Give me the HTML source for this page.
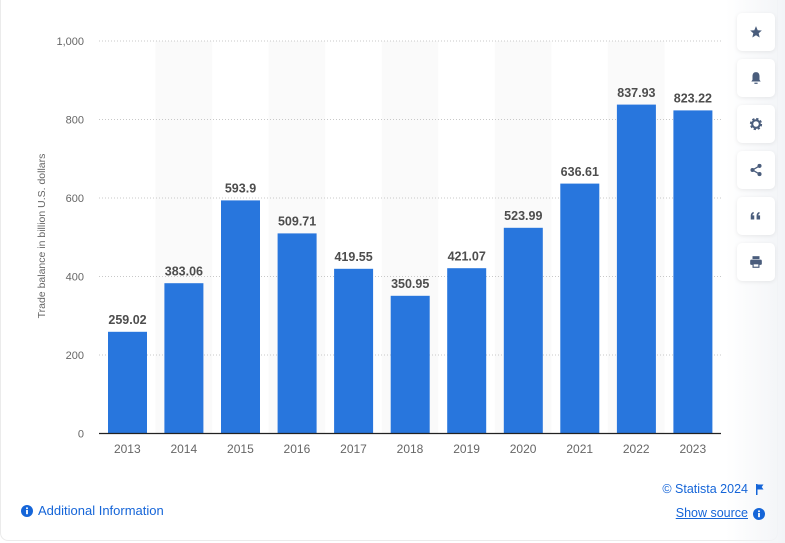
<!DOCTYPE html>
<html><head><meta charset="utf-8"><style>
html,body{margin:0;padding:0;background:#fff;width:785px;height:543px;overflow:hidden;font-family:"Liberation Sans",sans-serif}
.card{position:absolute;left:0;top:-12px;width:778px;height:553px;border:1px solid #ebebeb;border-radius:8px;background:#fff;box-sizing:border-box}
.side{position:absolute;left:726px;top:0;width:59px;height:543px;background:linear-gradient(to right,rgba(255,255,255,0),#f2f4f7)}
.btn{position:absolute;left:737px;width:38px;height:38px;background:#fff;border-radius:5px;box-shadow:0 1px 4px rgba(0,0,0,0.08);display:flex;align-items:center;justify-content:center}
.foot{position:absolute;font-size:12.5px;color:#1565d8;white-space:nowrap}
</style></head><body>
<div class="card"></div>
<div class="side"></div>
<svg width="785" height="543" style="position:absolute;left:0;top:0" xmlns="http://www.w3.org/2000/svg">
<g fill="#fafafa">
<rect x="155.5" y="41" width="56.6" height="392.5"/>
<rect x="268.6" y="41" width="56.6" height="392.5"/>
<rect x="381.7" y="41" width="56.6" height="392.5"/>
<rect x="494.8" y="41" width="56.6" height="392.5"/>
<rect x="607.9" y="41" width="56.6" height="392.5"/>
</g>
<g stroke="#c8c8c8" stroke-width="1" stroke-dasharray="1,2">
<line x1="99" y1="41" x2="721" y2="41"/>
<line x1="99" y1="119.5" x2="721" y2="119.5"/>
<line x1="99" y1="198" x2="721" y2="198"/>
<line x1="99" y1="276.5" x2="721" y2="276.5"/>
<line x1="99" y1="355" x2="721" y2="355"/>
</g>
<g font-size="11" fill="#666" text-anchor="end">
<text x="84" y="45">1,000</text>
<text x="84" y="123.5">800</text>
<text x="84" y="202">600</text>
<text x="84" y="280.5">400</text>
<text x="84" y="359">200</text>
<text x="84" y="437.5">0</text>
</g>
<text transform="translate(45,236) rotate(-90)" font-size="10.5" fill="#666" text-anchor="middle">Trade balance in billion U.S. dollars</text>
<g fill="#2876dd">
<rect x="108" y="331.8" width="39" height="101.7"/>
<rect x="164.4" y="283.2" width="39" height="150.3"/>
<rect x="221" y="200.4" width="39" height="233.1"/>
<rect x="277.6" y="233.4" width="39" height="200.1"/>
<rect x="334.1" y="268.8" width="39" height="164.7"/>
<rect x="390.7" y="295.8" width="39" height="137.7"/>
<rect x="447.2" y="268.2" width="39" height="165.3"/>
<rect x="503.8" y="227.8" width="39" height="205.7"/>
<rect x="560.3" y="183.6" width="39" height="249.9"/>
<rect x="616.9" y="104.6" width="39" height="328.9"/>
<rect x="673.4" y="110.4" width="39" height="323.1"/>
</g>
<g font-size="12.5" font-weight="bold" fill="#4d4d4d" text-anchor="middle">
<text x="127.5" y="324">259.02</text>
<text x="183.9" y="275.4">383.06</text>
<text x="240.5" y="192.6">593.9</text>
<text x="297.1" y="225.6">509.71</text>
<text x="353.6" y="261">419.55</text>
<text x="410.2" y="288">350.95</text>
<text x="466.7" y="260.4">421.07</text>
<text x="523.3" y="220">523.99</text>
<text x="579.8" y="175.8">636.61</text>
<text x="636.4" y="96.8">837.93</text>
<text x="692.9" y="102.6">823.22</text>
</g>
<line x1="99" y1="433.5" x2="721" y2="433.5" stroke="#222" stroke-width="1.2"/>
<g font-size="12" fill="#666" text-anchor="middle">
<text x="127.3" y="453">2013</text>
<text x="183.8" y="453">2014</text>
<text x="240.4" y="453">2015</text>
<text x="296.9" y="453">2016</text>
<text x="353.5" y="453">2017</text>
<text x="410" y="453">2018</text>
<text x="466.6" y="453">2019</text>
<text x="523.1" y="453">2020</text>
<text x="579.7" y="453">2021</text>
<text x="636.2" y="453">2022</text>
<text x="692.8" y="453">2023</text>
</g>
</svg>
<div class="btn" style="top:13px"><svg width="14" height="14" viewBox="0 0 24 24"><path d="M12 2l2.9 6.9 7.1.6-5.4 4.7 1.7 7.3L12 17.6 5.7 21.5l1.7-7.3L2 9.5l7.1-.6z" fill="#4a5d7c"/></svg></div>
<div class="btn" style="top:59px"><svg width="14" height="14" viewBox="0 0 24 24"><path d="M12 2c-4 0-6 3-6 7v6l-2 3h16l-2-3V9c0-4-2-7-6-7z" fill="#4a5d7c"/><rect x="9" y="20" width="6" height="2" rx="1" fill="#4a5d7c"/></svg></div>
<div class="btn" style="top:105px"><svg width="14" height="14" viewBox="0 0 24 24"><circle cx="12" cy="12" r="8" fill="none" stroke="#4a5d7c" stroke-width="5" stroke-dasharray="3.5,2.8"/><circle cx="12" cy="12" r="6.5" fill="none" stroke="#4a5d7c" stroke-width="3.5"/></svg></div>
<div class="btn" style="top:151px"><svg width="14" height="14" viewBox="0 0 24 24"><circle cx="18" cy="5" r="3.5" fill="#4a5d7c"/><circle cx="6" cy="12" r="3.5" fill="#4a5d7c"/><circle cx="18" cy="19" r="3.5" fill="#4a5d7c"/><path d="M18 5L6 12l12 7" stroke="#4a5d7c" stroke-width="2.2" fill="none"/></svg></div>
<div class="btn" style="top:197px"><svg width="14" height="14" viewBox="0 0 24 24"><path d="M3 18v-6c0-4 2-6 5-7v3c-1.5.5-2 1.5-2 3h3v7zM13 18v-6c0-4 2-6 5-7v3c-1.5.5-2 1.5-2 3h3v7z" fill="#4a5d7c"/></svg></div>
<div class="btn" style="top:243px"><svg width="14" height="14" viewBox="0 0 24 24"><rect x="6" y="2" width="12" height="5" fill="#4a5d7c"/><rect x="2" y="8" width="20" height="9" rx="2" fill="#4a5d7c"/><rect x="6" y="14" width="12" height="8" fill="#4a5d7c"/><rect x="8" y="16" width="8" height="4" fill="#fff"/></svg></div>
<div class="foot" style="left:21px;top:503px;display:flex;align-items:center;font-size:13px"><svg width="12" height="12" viewBox="0 0 12 12" style="margin-right:5px"><circle cx="6" cy="6" r="6" fill="#1565d8"/><rect x="5.1" y="5" width="1.8" height="4.2" fill="#fff"/><circle cx="6" cy="3.3" r="1" fill="#fff"/></svg>Additional Information</div>
<div class="foot" style="right:37px;top:482px">© Statista 2024</div>
<svg width="10" height="11" viewBox="0 0 10 11" style="position:absolute;left:755px;top:484px"><rect x="1" y="0" width="1.5" height="11" fill="#1565d8"/><path d="M2.5 0.5h6l-1.8 2.5 1.8 2.5h-6z" fill="#1565d8"/></svg>
<div class="foot" style="right:37px;top:506px;text-decoration:underline">Show source</div>
<svg width="12" height="12" viewBox="0 0 12 12" style="position:absolute;left:753px;top:508px"><circle cx="6" cy="6" r="6" fill="#1565d8"/><rect x="5.1" y="5" width="1.8" height="4.2" fill="#fff"/><circle cx="6" cy="3.3" r="1" fill="#fff"/></svg>
</body></html>
